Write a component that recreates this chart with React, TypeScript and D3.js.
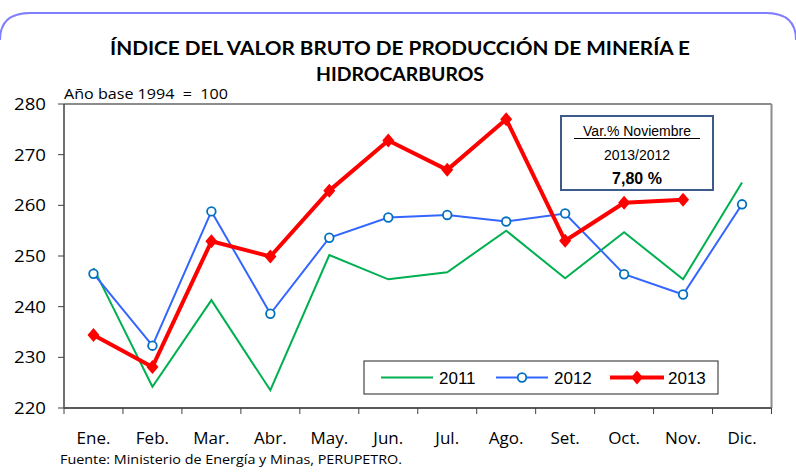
import React from "react";
import * as d3 from "d3";

const months = ["Ene.", "Feb.", "Mar.", "Abr.", "May.", "Jun.", "Jul.", "Ago.", "Set.", "Oct.", "Nov.", "Dic."];
const v2011 = [247.6, 224.2, 241.3, 223.5, 250.2, 245.4, 246.8, 255.0, 245.6, 254.7, 245.4, 264.5];
const v2012 = [246.5, 232.3, 258.8, 238.6, 253.6, 257.6, 258.1, 256.8, 258.4, 246.4, 242.4, 260.2];
const v2013 = [234.4, 228.1, 252.9, 249.9, 262.9, 272.8, 267.0, 277.0, 253.0, 260.5, 261.1];
const yTicks = [220, 230, 240, 250, 260, 270, 280];
const legendLabels = ["2011", "2012", "2013"];

const W = 796, H = 474;
const L = 64, R = 771.5, T = 104, B = 408;

const diamondPath = "M0,-7L6,0L0,7L-6,0Z";

export default function App() {
  const x = d3.scaleBand<string>().domain(months).range([L, R]);
  const y = d3.scaleLinear().domain([220, 280]).range([B, T]);
  const cx = (i: number) => (x(months[i]) as number) + x.bandwidth() / 2;
  const line = d3.line<number>().x((_, i) => cx(i)).y((d) => y(d));
  const font = "'Liberation Sans', Arial, sans-serif";
  const titleFont = "Lato, 'Open Sans', sans-serif";
  const narrow = "'Open Sans', sans-serif";

  return (
    <svg width={W} height={H} style={{ position: "absolute", left: 0, top: 0, background: "#fff" }}>
      <path d={`M 0 40 Q 0 13 30 13 L 766 13 Q 796 13 796 40`} fill="none" stroke="#7f7fff" strokeWidth={2} />
      <text x={400} y={55} textAnchor="middle" fontFamily={titleFont} fontWeight="bold" fontSize={19.5}
        textLength={580} lengthAdjust="spacingAndGlyphs">ÍNDICE DEL VALOR BRUTO DE PRODUCCIÓN DE MINERÍA E</text>
      <text x={400} y={81} textAnchor="middle" fontFamily={titleFont} fontWeight="bold" fontSize={19.5}
        textLength={168} lengthAdjust="spacingAndGlyphs">HIDROCARBUROS</text>
      <text x={64} y={99} fontFamily={narrow} fontSize={14} textLength={164} lengthAdjust="spacingAndGlyphs"
        style={{ whiteSpace: "pre" }}>Año base 1994  =  100</text>

      {/* plot frame */}
      <line x1={L} x2={R} y1={T} y2={T} stroke="#8c8c8c" strokeWidth={2} />
      <line x1={R} x2={R} y1={T} y2={B} stroke="#8c8c8c" strokeWidth={2} />
      <line x1={L} x2={L} y1={T} y2={B} stroke="#404040" strokeWidth={1.5} />
      <line x1={L} x2={R} y1={B} y2={B} stroke="#595959" strokeWidth={2} />

      {yTicks.map((t) => (
        <g key={t}>
          <line x1={L - 6} x2={L} y1={y(t)} y2={y(t)} stroke="#404040" strokeWidth={1} />
          <text x={46} y={y(t) + 6} textAnchor="end" fontFamily={narrow} fontSize={17}
            textLength={32} lengthAdjust="spacingAndGlyphs">{t}</text>
        </g>
      ))}
      {months.map((m, i) => (
        <g key={m}>
          <line x1={x(m) as number} x2={x(m) as number} y1={B} y2={B + 6} stroke="#404040" strokeWidth={1} />
          <text x={cx(i)} y={444} textAnchor="middle" fontFamily={narrow} fontSize={17}>{m}</text>
        </g>
      ))}
      <line x1={R} x2={R} y1={B} y2={B + 6} stroke="#404040" strokeWidth={1} />

      <text x={60} y={464} fontFamily={narrow} fontSize={13.5} textLength={342} lengthAdjust="spacingAndGlyphs">Fuente: Ministerio de Energía y Minas, PERUPETRO.</text>

      {/* series */}
      <path d={line(v2011) as string} fill="none" stroke="#00b050" strokeWidth={2} />
      <path d={line(v2012) as string} fill="none" stroke="#3366ff" strokeWidth={2} />
      {v2012.map((v, i) => (
        <circle key={i} cx={cx(i)} cy={y(v)} r={4.3} fill="#fff" stroke="#0070c0" strokeWidth={1.8} />
      ))}
      <path d={line(v2013) as string} fill="none" stroke="#ff0000" strokeWidth={4} strokeLinejoin="round" />
      {v2013.map((v, i) => (
        <path key={i} d={diamondPath} transform={`translate(${cx(i)},${y(v)})`} fill="#ff0000" />
      ))}

      {/* annotation */}
      <rect x={561} y={116} width={152} height={74} fill="#fff" stroke="#3c5a8a" strokeWidth={2} />
      <text x={637} y={136} textAnchor="middle" fontFamily={font} fontSize={14}>Var.% Noviembre</text>
      <line x1={574} x2={700} y1={138.5} y2={138.5} stroke="#000" strokeWidth={1} />
      <text x={637} y={160} textAnchor="middle" fontFamily={font} fontSize={14}>2013/2012</text>
      <text x={637} y={183.5} textAnchor="middle" fontFamily={font} fontSize={16} fontWeight="bold">7,80 %</text>

      {/* legend */}
      <rect x={364} y={361} width={354} height={33} fill="#fff" stroke="#222" strokeWidth={1} />
      <line x1={381} x2={433} y1={377.5} y2={377.5} stroke="#00b050" strokeWidth={2} />
      <text x={439} y={384} fontFamily={font} fontSize={17}>{legendLabels[0]}</text>
      <line x1={496} x2={548} y1={377.5} y2={377.5} stroke="#3366ff" strokeWidth={2} />
      <circle cx={522} cy={377.5} r={4.3} fill="#fff" stroke="#0070c0" strokeWidth={1.8} />
      <text x={554} y={384} fontFamily={font} fontSize={17}>{legendLabels[1]}</text>
      <line x1={610} x2={664} y1={377.5} y2={377.5} stroke="#ff0000" strokeWidth={4} />
      <path d={diamondPath} transform={`translate(637,377.5)`} fill="#ff0000" />
      <text x={668} y={384} fontFamily={font} fontSize={17}>{legendLabels[2]}</text>
    </svg>
  );
}
